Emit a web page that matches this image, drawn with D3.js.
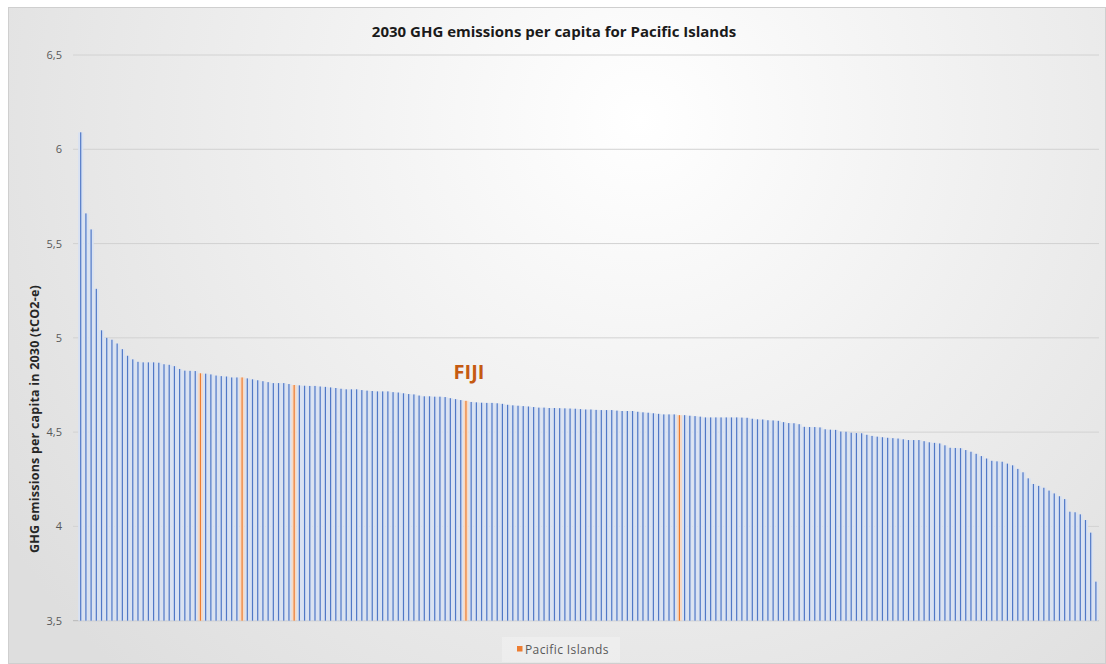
<!DOCTYPE html>
<html>
<head>
<meta charset="utf-8">
<script src="https://cdn.jsdelivr.net/npm/d3@7"></script>
<style>
  html, body { margin: 0; padding: 0; background: #ffffff; }
  svg { display: block; }
  text { font-family: "Open Sans", "DejaVu Sans", sans-serif; }
</style>
</head>
<body>
<svg id="chart" width="1106" height="664"></svg>
<script>
// 2030 GHG emissions per capita (tCO2-e), sorted from highest to lowest
const values = [
  6.09, 5.66, 5.575, 5.26, 5.04, 5.00, 4.99, 4.97, 4.94, 4.905,
  4.886, 4.873, 4.87, 4.87, 4.87, 4.868, 4.86, 4.857, 4.85, 4.835,
  4.826, 4.825, 4.824, 4.812, 4.81, 4.806, 4.80, 4.797, 4.795, 4.79,
  4.79, 4.79, 4.785, 4.78, 4.775, 4.77, 4.765, 4.76, 4.76, 4.76,
  4.755, 4.75, 4.748, 4.746, 4.745, 4.745, 4.742, 4.74, 4.737, 4.734,
  4.73, 4.727, 4.727, 4.727, 4.723, 4.72, 4.718, 4.716, 4.716, 4.716,
  4.712, 4.71, 4.706, 4.702, 4.70, 4.694, 4.69, 4.69, 4.688, 4.688,
  4.686, 4.68, 4.675, 4.67, 4.666, 4.66, 4.658, 4.656, 4.655, 4.655,
  4.653, 4.65, 4.645, 4.642, 4.64, 4.638, 4.636, 4.633, 4.63, 4.63,
  4.628, 4.628, 4.627, 4.626, 4.625, 4.624, 4.622, 4.62, 4.62, 4.618,
  4.617, 4.617, 4.617, 4.614, 4.612, 4.612, 4.612, 4.608, 4.605, 4.603,
  4.60, 4.597, 4.594, 4.594, 4.594, 4.59, 4.59, 4.587, 4.585, 4.582,
  4.578, 4.578, 4.578, 4.578, 4.578, 4.578, 4.578, 4.577, 4.576, 4.571,
  4.568, 4.567, 4.563, 4.562, 4.56, 4.553, 4.548, 4.547, 4.542, 4.528,
  4.527, 4.527, 4.525, 4.515, 4.513, 4.512, 4.503, 4.502, 4.497, 4.495,
  4.494, 4.486, 4.48, 4.476, 4.473, 4.47, 4.468, 4.466, 4.462, 4.458,
  4.458, 4.458, 4.452, 4.446, 4.443, 4.44, 4.43, 4.417, 4.416, 4.415,
  4.405, 4.396, 4.385, 4.373, 4.36, 4.348, 4.345, 4.343, 4.333, 4.324,
  4.305, 4.287, 4.255, 4.225, 4.215, 4.205, 4.19, 4.175, 4.16, 4.145,
  4.078, 4.075, 4.064, 4.034, 3.967, 3.707
];

// positions (in sorted order) of the Pacific Island countries
const pacificIslands = [23, 31, 41, 74, 115];
const fijiIndex = 74;

const yTicks = [3.5, 4, 4.5, 5, 5.5, 6, 6.5];
const titleText = "2030 GHG emissions per capita for Pacific Islands";
const yAxisTitle = "GHG emissions per capita in 2030 (tCO2-e)";
const legendLabel = "Pacific Islands";
const calloutLabel = "FIJI";

const W = 1106, H = 664;
const plot = { left: 73, right: 1099, top: 55, bottom: 620.7 };

const svg = d3.select("#chart");
const defs = svg.append("defs");

// soft radial background of the chart area
const grad = defs.append("radialGradient")
  .attr("id", "bg")
  .attr("gradientUnits", "userSpaceOnUse")
  .attr("cx", 640).attr("cy", 120).attr("r", 760);
grad.append("stop").attr("offset", "0%").attr("stop-color", "#ffffff");
grad.append("stop").attr("offset", "45%").attr("stop-color", "#f0f0f0");
grad.append("stop").attr("offset", "100%").attr("stop-color", "#dedede");

svg.append("rect").attr("width", W).attr("height", H).attr("fill", "#ffffff");
svg.append("rect")
  .attr("x", 8.5).attr("y", 7.5)
  .attr("width", W - 9).attr("height", H - 8)
  .attr("fill", "url(#bg)")
  .attr("stroke", "#cfcfcf");

const ids = d3.range(values.length);
const x = d3.scaleBand()
  .domain(ids)
  .range([78.1, 1098.5])
  .padding(0);

const y = d3.scaleLinear()
  .domain([3.5, 6.5])
  .range([plot.bottom, plot.top]);

const isPacific = i => pacificIslands.includes(i);

// gridlines
svg.append("g")
  .selectAll("line")
  .data(yTicks)
  .join("line")
  .attr("x1", plot.left).attr("x2", plot.right)
  .attr("y1", d => y(d)).attr("y2", d => y(d))
  .attr("stroke", d => d === 3.5 ? "#b8b8b8" : "#d2d2d2")
  .attr("stroke-width", 1);

// y axis tick labels, decimal comma
const fmt = d => d3.format("")(d).replace(".", ",");
const yAxis = d3.axisLeft(y)
  .tickValues(yTicks)
  .tickFormat(fmt)
  .tickSize(0)
  .tickPadding(0);
const gy = svg.append("g")
  .attr("transform", `translate(62,0)`)
  .call(yAxis);
gy.select(".domain").remove();
gy.selectAll("text")
  .attr("font-size", 11)
  .attr("fill", "#595959")
  .attr("font-family", "'Open Sans', sans-serif");

// column bodies (pale tint across the full band)
const bars = svg.append("g");
bars.selectAll("rect.body")
  .data(ids)
  .join("rect")
  .attr("class", "body")
  .attr("x", i => x(i))
  .attr("width", x.bandwidth())
  .attr("y", i => y(values[i]))
  .attr("height", i => y(3.5) - y(values[i]))
  .attr("fill", i => isPacific(i) ? "#f6dac6" : "#d9e2f2");

// column strokes
bars.selectAll("rect.edge")
  .data(ids)
  .join("rect")
  .attr("class", "edge")
  .attr("x", i => x(i) + x.bandwidth() / 2 - 0.6)
  .attr("width", 1.2)
  .attr("y", i => y(values[i]))
  .attr("height", i => y(3.5) - y(values[i]))
  .attr("fill", i => isPacific(i) ? "#ed7d31" : "#5078c6");

// title
svg.append("text")
  .attr("x", 554).attr("y", 36.5)
  .attr("text-anchor", "middle")
  .attr("font-size", 15)
  .attr("font-weight", "bold")
  .attr("fill", "#1a1a1a")
  .text(titleText);

// y axis title
svg.append("text")
  .attr("transform", `translate(39,419) rotate(-90)`)
  .attr("text-anchor", "middle")
  .attr("font-size", 12.5)
  .attr("font-weight", "bold")
  .attr("letter-spacing", 0.2)
  .attr("fill", "#262626")
  .text(yAxisTitle);

// Fiji callout
svg.append("text")
  .attr("x", x(fijiIndex) + x.bandwidth() / 2 + 3)
  .attr("y", y(values[fijiIndex]) - 22)
  .attr("text-anchor", "middle")
  .attr("font-size", 20)
  .attr("font-weight", "bold")
  .attr("fill", "#c55a11")
  .text(calloutLabel);

// legend
const lg = svg.append("g").attr("transform", "translate(502,637)");
lg.append("rect")
  .attr("width", 118).attr("height", 25)
  .attr("fill", "#ffffff").attr("fill-opacity", 0.25);
lg.append("rect")
  .attr("x", 15).attr("y", 9)
  .attr("width", 5.5).attr("height", 5.5)
  .attr("fill", "#ed7d31");
lg.append("text")
  .attr("x", 23).attr("y", 16.5)
  .attr("font-size", 12)
  .attr("letter-spacing", 0.4)
  .attr("fill", "#595959")
  .text(legendLabel);
</script>
</body>
</html>
